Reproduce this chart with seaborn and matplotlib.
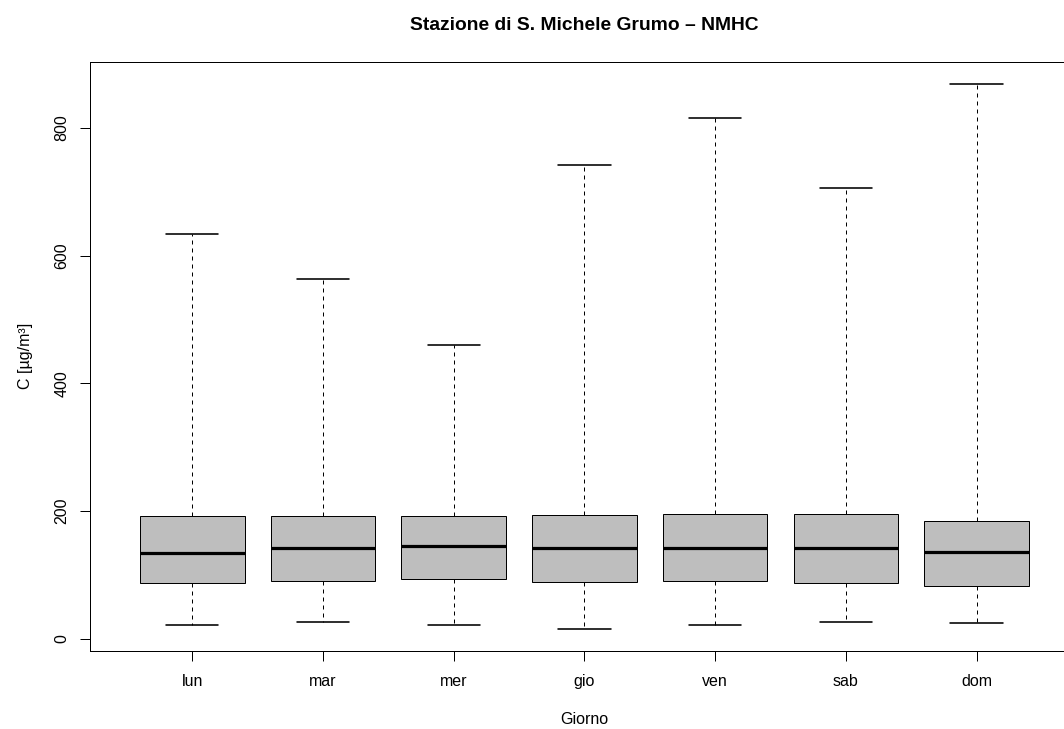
'''
Boxplot of NMHC concentration by weekday, station of S. Michele Grumo
'''

import numpy as np
import pandas as pd
import matplotlib
matplotlib.use('Agg')
import matplotlib.pyplot as plt
import seaborn as sns

# five-number summaries (min, q1, median, q3, max)
giorni = ['lun', 'mar', 'mer', 'gio', 'ven', 'sab', 'dom']
minimo = [21, 27, 21, 16, 22, 26, 25]
q1 = [87, 90, 94, 89, 90, 87, 82]
mediana = [135, 143, 146, 142, 143, 143, 136]
q3 = [192, 193, 193, 194, 195, 195, 185]
massimo = [633, 564, 460, 742, 816, 705, 869]
y_ticks = [0, 200, 400, 600, 800]

rows = []
for i, g in enumerate(giorni):
    for v in (minimo[i], q1[i], mediana[i], q3[i], massimo[i]):
        rows.append({'giorno': g, 'C': v})
df = pd.DataFrame(rows)

sns.set_style('ticks')
plt.rcParams['font.family'] = ['Liberation Sans', 'DejaVu Sans']
plt.rcParams['text.color'] = 'black'
plt.rcParams['axes.labelcolor'] = 'black'

W, H, DPI = 1064, 729, 72
fig = plt.figure(figsize=(W / DPI, H / DPI), dpi=DPI)
# plot region in pixels: left 90, right 1079 (cut off), top 62, bottom 651
ax = fig.add_axes([90.3 / W, (H - 650.7) / H, 988.3 / W, (650.7 - 62) / H])

sns.boxplot(data=df, x='giorno', y='C', order=giorni, whis=(0, 100),
            width=0.8, color='#bebebe', saturation=1, linecolor='black',
            linewidth=1, fliersize=0,
            medianprops={'linewidth': 3.2, 'color': 'black'},
            whiskerprops={'linestyle': (0, (4, 4)), 'linewidth': 1},
            capprops={'linewidth': 1.6},
            ax=ax)

ax.set_xlim(-0.78, 6.78)
ax.set_ylim(-18.5, 903)
ax.set_yticks(y_ticks)
ax.set_yticklabels([str(t) for t in y_ticks], rotation=90, va='center')
ax.tick_params(direction='out', length=10, width=1, colors='black',
               labelsize=16)
ax.tick_params(axis='x', pad=13)
ax.tick_params(axis='y', pad=11)
for s in ax.spines.values():
    s.set_visible(True)
    s.set_color('black')
    s.set_linewidth(1)

ax.set_xlabel('Giorno', fontsize=16, labelpad=23, color='black')
ax.set_ylabel('C [µg/m³]', fontsize=16, labelpad=21, color='black')
ax.set_title('Stazione di S. Michele Grumo – NMHC', fontsize=19.2,
             fontweight='bold', pad=32, color='black')

fig.savefig('out.png', dpi=DPI)
